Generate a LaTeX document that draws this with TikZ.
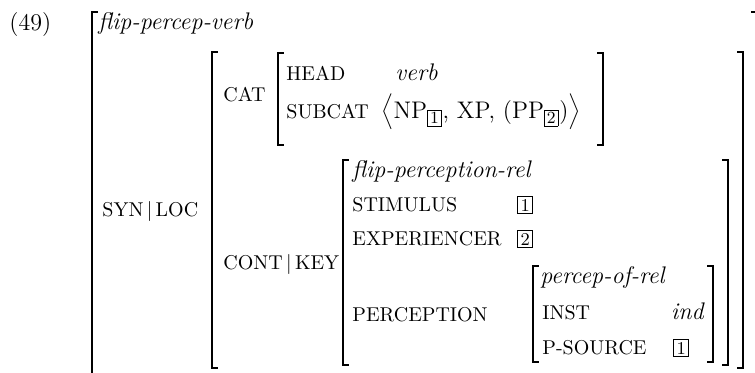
\documentclass[tikz,border=0pt]{standalone}
\usepackage{tikz}
\usetikzlibrary{positioning}
\tikzstyle{brk} = [line width=1pt, line cap=rect]
\tikzstyle{lbl} = [anchor=base west, inner sep=0pt, font=\fontsize{10}{12}\selectfont]
\tikzstyle{val} = [anchor=base west, inner sep=0pt, font=\fontsize{12}{14}\selectfont\itshape]
\tikzstyle{tag} = [anchor=base west, inner sep=0pt, font=\fontsize{12}{14}\selectfont]
\newcommand{\tagbox}[1]{{\setlength{\fboxsep}{1.2pt}\setlength{\fboxrule}{0.4pt}\fbox{\fontsize{9}{9}\selectfont #1}}}
\newcommand{\subtag}[1]{{\setlength{\fboxsep}{1pt}\setlength{\fboxrule}{0.4pt}\fbox{\fontsize{8.5}{8.5}\selectfont #1}}}
\newcommand{\avmleft}[3]{\draw[brk] (#1+5,#2) -- (#1,#2) -- (#1,#3) -- (#1+5,#3);}
\newcommand{\avmright}[3]{\draw[brk] (#1-5,#2) -- (#1,#2) -- (#1,#3) -- (#1-5,#3);}
\begin{document}
\begin{tikzpicture}[x=0.5pt,y=-0.5pt]
\clip (0,0) rectangle (755,372);
% example number and outer matrix
\node[tag] (num) at (9,30) {(49)};
\node[val] (verbtype) at (98,29) {flip-percep-verb};
\avmleft{92}{12}{390}
\avmright{757}{12}{390}

% SYN|LOC
\node[lbl] (synloc) at (102,216) {SYN$\,|\,$LOC};
\avmleft{212}{52}{368}
\avmright{743}{52}{368}

% CAT
\node[lbl] (cat) at (223,101) {CAT};
\avmleft{278}{53}{145}
\avmright{603}{53}{145}
\node[lbl] (head) at (286,80) {HEAD};
\node[lbl] (subcat) at (286,118) {SUBCAT};
\node[val] (headval) at (395,80) {verb};
\node[tag] (subcatval) at (381,118) {$\Big\langle$NP$_{\subtag{1}}$, XP, (PP$_{\subtag{2}}$)$\Big\rangle$};

% CONT|KEY
\node[lbl] (contkey) at (223,269) {CONT$\,|\,$KEY};
\avmleft{343}{160}{365}
\avmright{728}{160}{365}
\node[val] (reltype) at (352,177) {flip-perception-rel};
\node[lbl] (stim) at (352,211) {STIMULUS};
\node[tag] (stimval) at (517,211) {\tagbox{1}};
\node[lbl] (exper) at (352,245) {EXPERIENCER};
\node[tag] (experval) at (517,245) {\tagbox{2}};
\node[lbl] (percep) at (352,321) {PERCEPTION};

% PERCEPTION value
\avmleft{533}{266}{362}
\avmright{713}{266}{362}
\node[val] (perctype) at (540,283) {percep-of-rel};
\node[lbl] (inst) at (542,319) {INST};
\node[val, anchor=base east] (instval) at (704,319) {ind};
\node[lbl] (psource) at (542,354) {P-SOURCE};
\node[tag] (psourceval) at (673,354) {\tagbox{1}};
\end{tikzpicture}
\end{document}
